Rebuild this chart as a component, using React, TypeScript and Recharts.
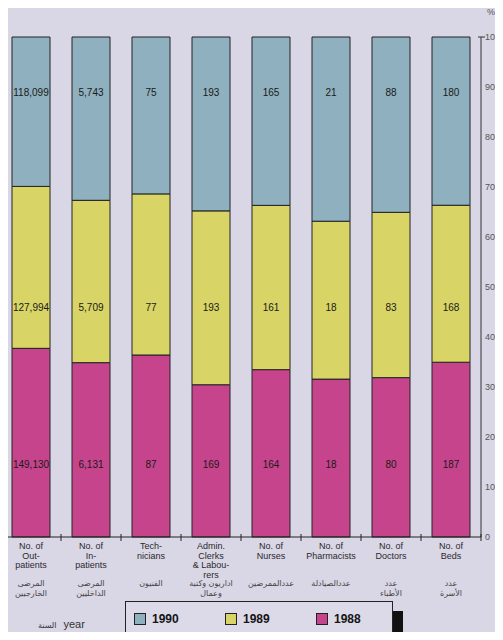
import React from 'react';
import { BarChart, Bar, XAxis, YAxis, LabelList } from 'recharts';

// categories, values and tick labels
const categories = ['outpatients', 'inpatients', 'technicians', 'admin', 'nurses', 'pharmacists', 'doctors', 'beds'];
const englishLabels = [
    ['No. of', 'Out-', 'patients'],
    ['No. of', 'In-', 'patients'],
    ['Tech-', 'nicians'],
    ['Admin.', 'Clerks', '& Labou-', 'rers'],
    ['No. of', 'Nurses'],
    ['No. of', 'Pharmacists'],
    ['No. of', 'Doctors'],
    ['No. of', 'Beds'],
];
const arabicLabels = [
    ['المرضى', 'الخارجيين'],
    ['المرضى', 'الداخليين'],
    ['الفنيون'],
    ['اداريون وكتبة', 'وعمال'],
    ['عددالممرضين'],
    ['عددالصيادلة'],
    ['عدد', 'الأطباء'],
    ['عدد', 'الأسرة'],
];
const values1988 = [149130, 6131, 87, 169, 164, 18, 80, 187];
const values1989 = [127994, 5709, 77, 193, 161, 18, 83, 168];
const values1990 = [118099, 5743, 75, 193, 165, 21, 88, 180];
const percentTicks = [0, 10, 20, 30, 40, 50, 60, 70, 80, 90, 100];
const years = ['1990', '1989', '1988'];

const COLORS: Record<string, string> = {
    '1990': '#8fb0be',
    '1989': '#d8d466',
    '1988': '#c6448c',
};

const WIDTH = 503;
const HEIGHT = 640;
const PLOT_TOP = 37;
const PLOT_H = 500;
const XAXIS_H = 70;
const FONT = '"Liberation Sans", Arial, Helvetica, sans-serif';

const chartData = categories.map((key, i) => ({
    key,
    v1988: values1988[i],
    v1989: values1989[i],
    v1990: values1990[i],
}));

// value label inside a segment, at a fixed height of the plot
const segmentLabel = (frac: number) => (props: any) => {
    const { x, width, value } = props;
    return (
        <text
            x={x + width / 2}
            y={PLOT_TOP + PLOT_H * frac}
            textAnchor="middle"
            dominantBaseline="central"
            fontSize={10}
            fontFamily={FONT}
            fill="#1a1a1a"
        >
            {Number(value).toLocaleString('en-US')}
        </text>
    );
};

const XTick = (props: any) => {
    const { x, y, payload } = props;
    const i = categories.indexOf(payload.value);
    const half = 30;
    return (
        <g>
            <line x1={x - half} x2={x - half} y1={y - 3} y2={y + 4} stroke="#222" />
            {i === categories.length - 1 && (
                <line x1={x + half} x2={x + half} y1={y - 3} y2={y + 4} stroke="#222" />
            )}
            <text textAnchor="middle" fontSize={9} fontFamily={FONT} fill="#2a2a2a">
                {englishLabels[i].map((line, k) => (
                    <tspan key={k} x={x} y={y + 12 + k * 9.5}>{line}</tspan>
                ))}
            </text>
            <text textAnchor="middle" fontSize={8} fontFamily='"DejaVu Sans", sans-serif' fill="#444">
                {arabicLabels[i].map((line, k) => (
                    <tspan key={k} x={x} y={y + 49 + k * 10}>{line}</tspan>
                ))}
            </text>
        </g>
    );
};

const YTick = (props: any) => {
    const { x, y, payload } = props;
    return (
        <g>
            {payload.value === 1 && <line x1={x - 3} x2={x + 4} y1={y} y2={y} stroke="#333" />}
            <text x={x + 4} y={y} dominantBaseline="central" fontSize={9} fontFamily={FONT} fill="#555">
                {Math.round(payload.value * 100)}
            </text>
        </g>
    );
};

const App: React.FC = () => {
    return (
        <div
            style={{
                position: 'relative',
                width: WIDTH,
                height: HEIGHT,
                margin: -8,
                background: '#d9d6e6',
                overflow: 'hidden',
                fontFamily: FONT,
            }}
        >
            <BarChart
                width={WIDTH}
                height={HEIGHT}
                data={chartData}
                stackOffset="expand"
                barSize={38}
                style={{ overflow: 'visible' }}
                margin={{ top: PLOT_TOP, right: 0, left: 1, bottom: HEIGHT - PLOT_TOP - PLOT_H - XAXIS_H }}
            >
                <XAxis
                    dataKey="key"
                    interval={0}
                    height={XAXIS_H}
                    tick={<XTick />}
                    tickLine={false}
                    tickSize={0}
                    tickMargin={0}
                    axisLine={{ stroke: '#222' }}
                />
                <YAxis
                    orientation="right"
                    width={22}
                    domain={[0, 1]}
                    ticks={percentTicks.map((t) => t / 100)}
                    tick={<YTick />}
                    tickLine={false}
                    tickSize={0}
                    tickMargin={0}
                    axisLine={{ stroke: '#333' }}
                />
                <Bar dataKey="v1988" stackId="a" fill={COLORS['1988']} stroke="#222" strokeWidth={1} isAnimationActive={false}>
                    <LabelList dataKey="v1988" content={segmentLabel(0.855)} />
                </Bar>
                <Bar dataKey="v1989" stackId="a" fill={COLORS['1989']} stroke="#222" strokeWidth={1} isAnimationActive={false}>
                    <LabelList dataKey="v1989" content={segmentLabel(0.54)} />
                </Bar>
                <Bar dataKey="v1990" stackId="a" fill={COLORS['1990']} stroke="#222" strokeWidth={1} isAnimationActive={false}>
                    <LabelList dataKey="v1990" content={segmentLabel(0.11)} />
                </Bar>
            </BarChart>

            <span style={{ position: 'absolute', left: 487, top: 7, fontSize: 9, color: '#555' }}>%</span>

            <div style={{ position: 'absolute', left: 38, top: 618, fontSize: 11, color: '#333' }}>
                <span style={{ fontFamily: '"DejaVu Sans", sans-serif', fontSize: 8, marginRight: 7 }}>السنة</span>
                year
            </div>

            {/* legend box with a black drop shadow */}
            <div
                style={{
                    position: 'absolute',
                    left: 125,
                    top: 601,
                    width: 266,
                    height: 34,
                    border: '1px solid #222',
                    background: '#dcd9e8',
                    boxShadow: '10px 10px 0 #111',
                }}
            >
                {years.map((yr, i) => (
                    <div
                        key={yr}
                        style={{
                            position: 'absolute',
                            left: 8 + i * 91,
                            top: 10,
                            display: 'flex',
                            alignItems: 'center',
                        }}
                    >
                        <span
                            style={{
                                display: 'inline-block',
                                width: 10,
                                height: 10,
                                background: COLORS[yr],
                                border: '1px solid #222',
                                marginRight: 6,
                            }}
                        />
                        <span style={{ fontSize: 12, fontWeight: 'bold', color: '#151515' }}>{yr}</span>
                    </div>
                ))}
            </div>
        </div>
    );
};

export default App;
